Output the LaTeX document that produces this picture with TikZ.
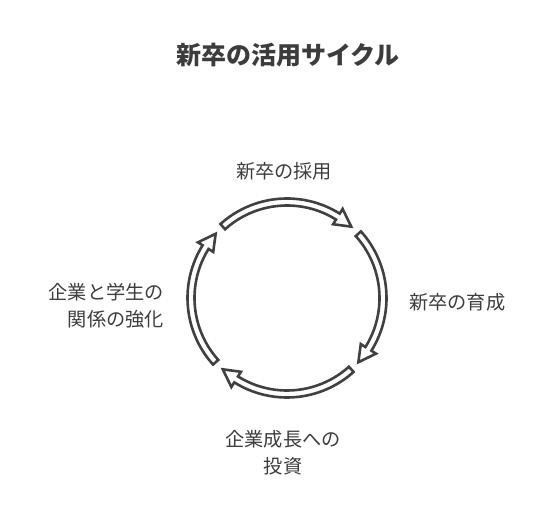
\documentclass[tikz,border=0pt]{standalone}
\usepackage{fontspec}
\usepackage{tikz}
\newfontfamily\cjk{Noto Sans CJK JP}
\definecolor{trazo}{HTML}{404040}
\definecolor{texto}{HTML}{3C3C3C}

\begin{document}
\begin{tikzpicture}[x=1pt,y=1pt,
		etiqueta/.style={font=\cjk\fontsize{19.2}{27}\selectfont, text=texto, inner sep=0pt},
		flecha/.style={draw=trazo, fill=white, line width=2.6pt, line join=miter}]
		
		% Marco
		\useasboundingbox (0,0) rectangle (540,516);
		
		% Titulo
		\node[font=\cjk\bfseries\fontsize{25}{30}\selectfont, text=texto] (titulo) at (288,461) {新卒の活用サイクル};
		
		% Dibujar las flechas del ciclo
		\begin{scope}[shift={(287,218)}]
			\foreach \c in {90,0,-90,180} {
				\draw[flecha] ({\c+42}:99.5) arc[start angle=\c+42, end angle=\c-32, radius=99.5]
					-- ({\c-32}:105) -- ({\c-42}:96) -- ({\c-32}:87)
					-- ({\c-32}:92.5) arc[start angle=\c-32, end angle=\c+42, radius=92.5] -- cycle;
			}
		\end{scope}
		
		% Etiquetar las etapas
		\node[etiqueta] (captacion) at (284,345) {新卒の採用};
		\node[etiqueta, anchor=west] (formacion) at (409,214) {新卒の育成};
		\node[etiqueta, align=center] (inversion) at (283,63.5) {企業成長への\\投資};
		\node[etiqueta, align=right, anchor=east] (relacion) at (164,210.5) {企業と学生の\\関係の強化};
		
		\end{tikzpicture}
\end{document}
